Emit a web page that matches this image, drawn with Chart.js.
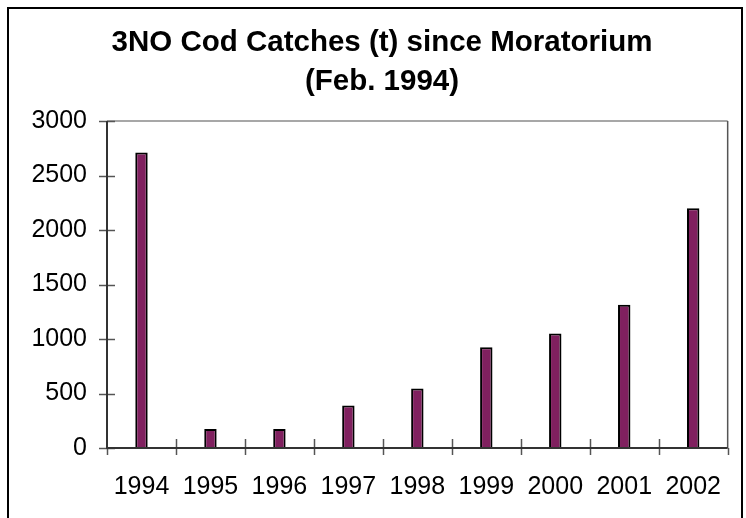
<!DOCTYPE html>
<html>
<head>
<meta charset="utf-8">
<script src="https://cdn.jsdelivr.net/npm/chart.js@4.4.1/dist/chart.umd.min.js"></script>
<style>
    html, body { margin: 0; padding: 0; background: #fff; overflow: hidden; }
    #wrap { position: absolute; left: 0; top: 0; width: 746px; height: 518px; }
    #frame {
        position: absolute; left: 7px; top: 7px; width: 732px; height: 600px;
        border: 2px solid #000; pointer-events: none;
    }
</style>
</head>
<body>
<div id="wrap">
    <canvas id="codChart" width="746" height="518"></canvas>
    <div id="frame"></div>
</div>
<script>
// datos
const years = ['1994', '1995', '1996', '1997', '1998', '1999', '2000', '2001', '2002'];
const catches = [2710, 175, 175, 390, 545, 925, 1050, 1315, 2200];
const titleLines = ['3NO Cod Catches (t) since Moratorium', '(Feb. 1994)'];
const yMin = 0;
const yMax = 3000;
const yStep = 500;

const fontFamily = '"Liberation Sans", Arial, sans-serif';

// ejes, borde del area y marcas cruzadas estilo Excel
const axisPlugin = {
    id: 'axisPlugin',
    afterDatasetsDraw(chart) {
        const ctx = chart.ctx;
        const area = chart.chartArea;
        const x = chart.scales.x;
        const y = chart.scales.y;
        ctx.save();

        // borde superior y derecho
        ctx.strokeStyle = '#8a8a8a';
        ctx.lineWidth = 1.5;
        ctx.beginPath();
        ctx.moveTo(area.left, area.top);
        ctx.lineTo(area.right, area.top);
        ctx.stroke();
        ctx.strokeStyle = '#555';
        ctx.beginPath();
        ctx.moveTo(area.right, area.top);
        ctx.lineTo(area.right, area.bottom);
        ctx.stroke();

        // marcas
        ctx.strokeStyle = '#555';
        ctx.lineWidth = 1.5;
        y.ticks.forEach(t => {
            const py = Math.round(y.getPixelForValue(t.value)) + 0.5;
            ctx.beginPath();
            ctx.moveTo(area.left - 8, py);
            ctx.lineTo(area.left + 8, py);
            ctx.stroke();
        });
        for (let i = 0; i <= years.length; i++) {
            const px = Math.round(x.getPixelForValue(i - 0.5)) + 0.5;
            ctx.beginPath();
            ctx.moveTo(px, (i === 0 || i === years.length) ? area.bottom : area.bottom - 9);
            ctx.lineTo(px, area.bottom + 7);
            ctx.stroke();
        }

        // ejes
        ctx.strokeStyle = '#333';
        ctx.lineWidth = 2;
        ctx.beginPath();
        ctx.moveTo(area.left, area.top);
        ctx.lineTo(area.left, area.bottom);
        ctx.lineTo(area.right, area.bottom);
        ctx.stroke();
        ctx.restore();
    }
};

const ctx = document.getElementById('codChart').getContext('2d');
new Chart(ctx, {
    type: 'bar',
    data: {
        labels: years,
        datasets: [{
            label: 'Catches (t)',
            data: catches,
            backgroundColor: '#80205f',
            borderColor: '#000',
            borderWidth: 2,
            borderSkipped: 'bottom',
            categoryPercentage: 1,
            barPercentage: 0.18
        }]
    },
    options: {
        responsive: false,
        animation: false,
        devicePixelRatio: 1,
        layout: { padding: { left: 18, right: 0, top: 0, bottom: 0 } },
        plugins: {
            legend: { display: false },
            tooltip: { enabled: false },
            title: {
                display: true,
                text: titleLines,
                color: '#000',
                font: { family: fontFamily, size: 29.5, weight: 'bold', lineHeight: 39 / 29.5 },
                padding: { top: 23, bottom: 20 }
            }
        },
        scales: {
            x: {
                offset: true,
                grid: { display: false, drawTicks: false },
                border: { display: false },
                ticks: {
                    color: '#000',
                    padding: 24,
                    maxRotation: 0,
                    autoSkip: false,
                    font: { family: fontFamily, size: 25 }
                },
                afterFit(scale) { scale.height = 70; }
            },
            y: {
                min: yMin,
                max: yMax,
                grid: { display: false, drawTicks: false },
                border: { display: false },
                ticks: {
                    stepSize: yStep,
                    color: '#000',
                    padding: 20,
                    font: { family: fontFamily, size: 25 },
                    callback: value => String(value)
                },
                afterFit(scale) { scale.width = 89; }
            },
            y2: {
                position: 'right',
                display: true,
                grid: { display: false, drawTicks: false },
                border: { display: false },
                ticks: { display: false },
                afterFit(scale) { scale.width = 18; }
            }
        }
    },
    plugins: [axisPlugin]
});
</script>
</body>
</html>
